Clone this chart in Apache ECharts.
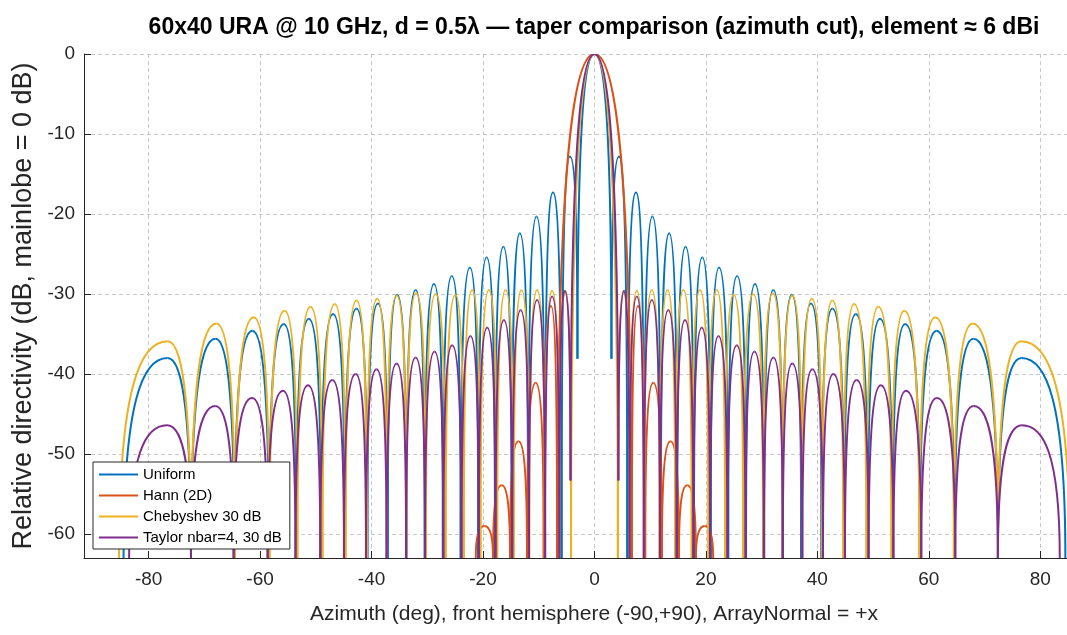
<!DOCTYPE html>
<html>
<head>
<meta charset="utf-8">
<script src="https://cdn.jsdelivr.net/npm/echarts@6/dist/echarts.min.js"></script>
<style>
  html, body { margin: 0; padding: 0; background: #fff; }
  #main { width: 1067px; height: 635px; }
</style>
</head>
<body>
<div id="main"></div>
<script>
// pattern is symmetric, so only the +azimuth half is read off the plot
// peaks: angle (deg) + level (dB); nulls: angle + depth the plotted dip reaches (-63 = off the bottom)
var mainlobe = [0, 0];

var uniformPeakDeg = [4.4, 7.45, 10.4, 13.4, 16.35, 19.35, 22.35, 25.6, 28.8, 32.1, 35.4, 38.85, 42.7, 46.9, 51.25, 55.75, 61.4, 68.0, 76.6];
var uniformPeakDb  = [-12.8, -17.3, -20.3, -22.4, -24.1, -25.4, -26.7, -27.75, -28.75, -29.5, -30.1, -31.2, -31.8, -32.5, -33.1, -33.75, -34.6, -35.6, -38.0];
var uniformNullDeg = [3.05, 5.9, 8.9, 11.9, 14.85, 17.85, 20.85, 24.0, 27.2, 30.45, 33.75, 37.1, 40.75, 44.8, 49.05, 53.5, 58.4, 64.6, 72.4, 84.5];
var uniformNullDb  = [-38.1, -63, -63, -63, -63, -63, -63, -63, -63, -63, -63, -63, -63, -63, -63, -63, -63, -63, -63, -63];

var hannPeakDeg = [7.8, 10.55, 13.65, 16.65, 19.75];
var hannPeakDb  = [-31.5, -41.1, -48.4, -53.9, -59.0];
var hannNullDeg = [6.7, 9.1, 12.1, 15.15, 18.2, 21.3];
var hannNullDb  = [-63, -63, -63, -63, -63, -63];

var chebPeakDeg = [5.2, 7.6, 10.3, 13.1, 15.95, 18.95, 21.95, 24.95, 28.5, 32.0, 35.5, 39.0, 42.7, 46.6, 50.95, 55.6, 61.15, 67.85, 76.6];
var chebPeakDb  = [-29.6, -29.6, -29.5, -29.5, -29.5, -29.5, -29.5, -30.1, -30.0, -29.9, -30.2, -30.6, -30.8, -31.25, -31.6, -32.1, -32.9, -33.7, -35.9];
var chebNullDeg = [4.2, 6.3, 8.9, 11.7, 14.5, 17.45, 20.45, 23.45, 26.7, 30.25, 33.75, 37.25, 40.85, 44.65, 48.8, 53.3, 58.3, 64.5, 72.4, 85.3];
var chebNullDb  = [-63, -63, -63, -63, -63, -63, -63, -63, -63, -63, -63, -63, -63, -63, -63, -63, -63, -63, -63, -63];

var taylorPeakDeg = [5.35, 7.6, 10.3, 13.25, 16.25, 19.25, 22.25, 25.55, 28.7, 32.1, 35.5, 39.1, 42.85, 47.05, 51.4, 55.9, 61.45, 68.05, 76.7];
var taylorPeakDb  = [-29.6, -30.3, -30.75, -32.0, -33.25, -34.2, -35.25, -36.4, -37.2, -37.95, -38.7, -39.4, -40.0, -40.75, -41.4, -42.1, -43.0, -44.0, -46.4];
var taylorNullDeg = [4.3, 6.3, 8.85, 11.75, 14.75, 17.75, 20.75, 23.85, 27.1, 30.4, 33.8, 37.3, 41.0, 44.95, 49.2, 53.65, 58.65, 64.75, 72.4, 83.5];
var taylorNullDb  = [-53.3, -63, -63, -63, -63, -63, -63, -63, -63, -63, -63, -63, -63, -63, -63, -63, -63, -63, -63, -63];

var names  = ['Uniform', 'Hann (2D)', 'Chebyshev 30 dB', 'Taylor nbar=4, 30 dB'];
var colors = ['#0072BD', '#D95319', '#EDB120', '#7E2F8E'];

// null, peak, null ... for +az, mirrored for -az, then cut into null<->peak pieces
function toSegments(peakDeg, peakDb, nullDeg, nullDb) {
  var right = [];
  for (var i = 0; i < nullDeg.length; i++) {
    right.push([nullDeg[i], nullDb[i]]);
    if (i < peakDeg.length) right.push([peakDeg[i], peakDb[i]]);
  }
  var pts = right.slice().reverse().map(function (p) { return [-p[0], p[1]]; });
  pts.push(mainlobe);
  pts = pts.concat(right);
  var segs = [];
  for (var j = 1; j < pts.length; j++) {
    segs.push([pts[j - 1][0], pts[j - 1][1], pts[j][0], pts[j][1]]);
  }
  return segs;
}

// one lobe flank: steep out of the null, flat over the peak
function lobeFlank(params, api) {
  var a = api.coord([api.value(0), api.value(1)]);
  var b = api.coord([api.value(2), api.value(3)]);
  var aLow = a[1] > b[1];
  var n = aLow ? a : b;
  var p = aLow ? b : a;
  var cn = [n[0], n[1] + 0.8 * (p[1] - n[1])];
  var cp = [p[0] - 0.55 * (p[0] - n[0]), p[1]];
  var c1 = aLow ? cn : cp;
  var c2 = aLow ? cp : cn;
  return {
    type: 'bezierCurve',
    shape: { x1: a[0], y1: a[1], x2: b[0], y2: b[1], cpx1: c1[0], cpy1: c1[1], cpx2: c2[0], cpy2: c2[1] },
    style: { stroke: api.visual('color'), fill: 'none', lineWidth: 2 }
  };
}

var curves = [
  toSegments(uniformPeakDeg, uniformPeakDb, uniformNullDeg, uniformNullDb),
  toSegments(hannPeakDeg, hannPeakDb, hannNullDeg, hannNullDb),
  toSegments(chebPeakDeg, chebPeakDb, chebNullDeg, chebNullDb),
  toSegments(taylorPeakDeg, taylorPeakDb, taylorNullDeg, taylorNullDb)
];

var font = 'Liberation Sans, Arial, Helvetica, sans-serif';
var chart = echarts.init(document.getElementById('main'), null, { renderer: 'canvas' });

var option = {
  animation: false,
  backgroundColor: '#fff',
  color: colors,
  title: {
    text: '60x40 URA @ 10 GHz, d = 0.5\u03bb \u2014 taper comparison (azimuth cut), element \u2248 6 dBi',
    left: 589,
    top: 11,
    textAlign: 'center',
    textStyle: { fontFamily: font, fontSize: 23, fontWeight: 'bold', color: '#000' }
  },
  legend: {
    orient: 'vertical',
    left: 93,
    top: 462,
    z: 50,
    backgroundColor: '#fff',
    borderColor: '#262626',
    borderWidth: 1,
    borderRadius: 0,
    padding: [5, 8, 4, 6],
    itemWidth: 39,
    itemHeight: 2,
    itemGap: 6,
    textStyle: { fontFamily: font, fontSize: 15, color: '#000' },
    data: names.map(function (n, i) {
      return { name: n, icon: 'rect', itemStyle: { color: colors[i] } };
    })
  },
  grid: { left: 84, right: -29, top: 54, bottom: 77, containLabel: false, outerBoundsMode: 'none' },
  xAxis: {
    type: 'value',
    min: -91.6,
    max: 90,
    splitNumber: 9,
    name: 'Azimuth (deg), front hemisphere (-90,+90), ArrayNormal = +x',
    nameLocation: 'middle',
    nameGap: 46,
    nameTextStyle: { fontFamily: font, fontSize: 21, color: '#262626', padding: [0, 0, 0, 8] },
    axisLine: { onZero: false, lineStyle: { color: '#262626', width: 1 } },
    axisTick: { inside: true, length: 7, lineStyle: { color: '#262626' } },
    axisLabel: {
      fontFamily: font, fontSize: 19, color: '#262626', margin: 12,
      formatter: function (v) { return v % 20 === 0 ? String(v) : ''; }
    },
    splitLine: { show: true, lineStyle: { color: '#c8c8c8', type: [4, 3], width: 1 } }
  },
  yAxis: {
    type: 'value',
    min: -63,
    max: 0,
    splitNumber: 6,
    name: 'Relative directivity (dB, mainlobe = 0 dB)',
    nameLocation: 'middle',
    nameGap: 46,
    nameTextStyle: { fontFamily: font, fontSize: 27, color: '#262626' },
    axisLine: { show: true, onZero: false, lineStyle: { color: '#262626', width: 1 } },
    axisTick: { show: true, inside: true, length: 7, lineStyle: { color: '#262626' } },
    axisLabel: {
      fontFamily: font, fontSize: 19, color: '#262626', margin: 9,
      formatter: function (v) { return v % 10 === 0 ? String(v) : ''; }
    },
    splitLine: { show: true, lineStyle: { color: '#c8c8c8', type: [4, 3], width: 1 } }
  },
  series: curves.map(function (segs, i) {
    return {
      name: names[i],
      type: 'custom',
      clip: true,
      z: 2 + i,
      itemStyle: { color: colors[i] },
      encode: { x: [0, 2], y: [1, 3] },
      renderItem: lobeFlank,
      data: segs
    };
  })
};

chart.setOption(option);
</script>
</body>
</html>
